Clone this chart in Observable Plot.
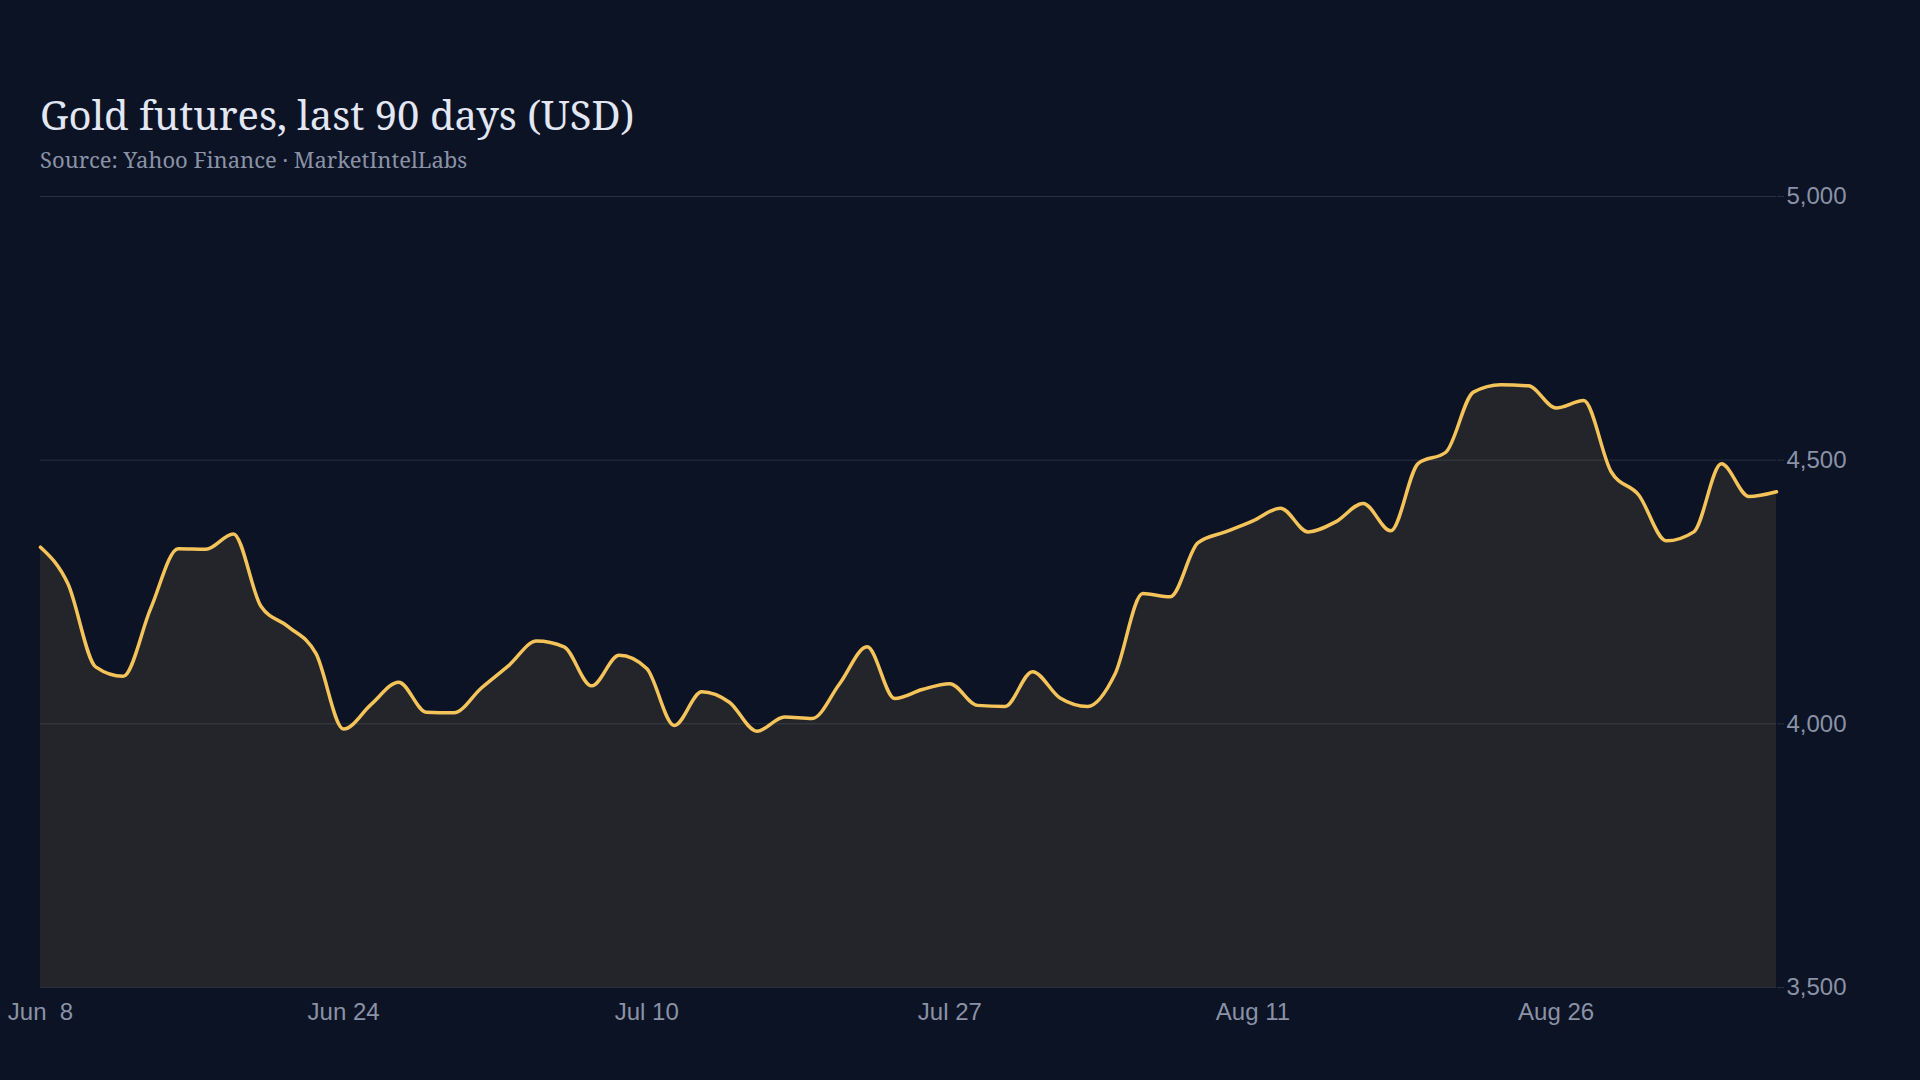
<!DOCTYPE html>
<html>
<head>
<meta charset="utf-8">
<script src="https://cdn.jsdelivr.net/npm/d3@7"></script>
<script src="https://cdn.jsdelivr.net/npm/@observablehq/plot@0.6"></script>
<style>
  html, body { margin: 0; padding: 0; background: #0c1325; width: 1920px; height: 1080px; overflow: hidden; }
  #title { position: absolute; left: 40px; top: 95px; font-family: "Noto Serif", "DejaVu Serif", serif; font-size: 40px; line-height: 40px; color: #e2e7f3; white-space: nowrap; }
  #subtitle { position: absolute; left: 40px; top: 148px; font-family: "Noto Serif", "DejaVu Serif", serif; font-size: 22px; line-height: 22px; color: #8a92a6; white-space: nowrap; }
  #chart { position: absolute; left: 0; top: 180px; }
</style>
</head>
<body>
<div id="title">Gold futures, last 90 days (USD)</div>
<div id="subtitle">Source: Yahoo Finance · MarketIntelLabs</div>
<div id="chart"></div>
<script>
const dates = [
  "2026-06-08","2026-06-09","2026-06-10","2026-06-11","2026-06-12",
  "2026-06-15","2026-06-16","2026-06-17","2026-06-18","2026-06-22",
  "2026-06-23","2026-06-24","2026-06-25","2026-06-26","2026-06-29",
  "2026-06-30","2026-07-01","2026-07-02","2026-07-06","2026-07-07",
  "2026-07-08","2026-07-09","2026-07-10","2026-07-13","2026-07-14",
  "2026-07-15","2026-07-16","2026-07-17","2026-07-20","2026-07-21",
  "2026-07-22","2026-07-23","2026-07-24","2026-07-27","2026-07-28",
  "2026-07-29","2026-07-30","2026-07-31","2026-08-03","2026-08-04",
  "2026-08-05","2026-08-06","2026-08-07","2026-08-10","2026-08-11",
  "2026-08-12","2026-08-13","2026-08-14","2026-08-17","2026-08-18",
  "2026-08-19","2026-08-20","2026-08-21","2026-08-24","2026-08-25",
  "2026-08-26","2026-08-27","2026-08-28","2026-08-31","2026-09-01",
  "2026-09-02","2026-09-03","2026-09-04","2026-09-08"
];
const closes = [
  4335, 4265, 4108, 4090, 4219, 4332, 4331, 4360, 4223, 4184,
  4133, 3990, 4037, 4079, 4022, 4021, 4068, 4111, 4157, 4146,
  4072, 4130, 4105, 3997, 4061, 4041, 3986, 4013, 4010, 4076,
  4146, 4048, 4065, 4076, 4035, 4033, 4099, 4049, 4033, 4095,
  4247, 4241, 4343, 4364, 4385, 4409, 4364, 4383, 4418, 4366,
  4494, 4515, 4629, 4643, 4641, 4599, 4613, 4478, 4434, 4347,
  4364, 4493, 4431, 4440
];
const xTickDates = ["2026-06-08","2026-06-24","2026-07-10","2026-07-27","2026-08-11","2026-08-26"];
const yTicks = [3500, 4000, 4500, 5000];
const yDomain = [3500, 5000];

const gold = "#f4c35a";
const gridColor = "#2a303f";
const labelColor = "#8a92a6";

const data = dates.map((d, i) => ({date: d, close: closes[i]}));
const fmt = d3.utcFormat("%b %e");

const chart = Plot.plot({
  width: 1920,
  height: 900,
  marginTop: 16,
  marginBottom: 93,
  marginLeft: 40,
  marginRight: 144,
  style: {background: "transparent", fontFamily: "'Liberation Sans', Arial, sans-serif", fontSize: "24px", color: labelColor},
  x: {type: "point", domain: dates, padding: 0, label: null},
  y: {domain: yDomain, label: null},
  marks: [
    Plot.gridY(yTicks, {stroke: gridColor, strokeOpacity: 1, strokeWidth: 1}),
    Plot.areaY(data, {x: "date", y1: yDomain[0], y2: "close", curve: "monotone-x", fill: gold, fillOpacity: 0.1}),
    Plot.lineY(data, {x: "date", y: "close", curve: "monotone-x", stroke: gold, strokeWidth: 3.5}),
    Plot.axisY(yTicks, {anchor: "right", tickSize: 7, tickPadding: 3, stroke: gridColor, fill: labelColor, tickFormat: d3.format(","), label: null}),
    Plot.axisX(xTickDates, {anchor: "bottom", tickSize: 0, tickPadding: 15, fill: labelColor, tickFormat: d => fmt(new Date(d)), label: null})
  ]
});
document.getElementById("chart").appendChild(chart);
</script>
</body>
</html>
